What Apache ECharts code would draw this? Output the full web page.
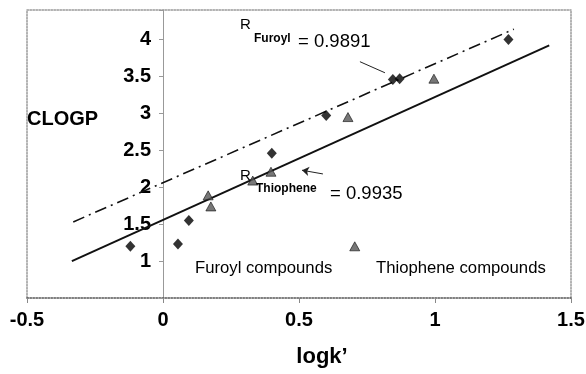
<!DOCTYPE html>
<html><head><meta charset="utf-8">
<script src="https://cdn.jsdelivr.net/npm/echarts/dist/echarts.min.js"></script>
<style>html,body{margin:0;padding:0;background:#fff}#c{width:586px;height:374px}</style>
</head><body><div id="c"></div>
<script>
// ---- data ----
const furoylX = [-0.12, 0.055, 0.095, 0.40, 0.60, 0.845, 0.87, 1.27];
const furoylY = [1.20, 1.23, 1.55, 2.46, 2.97, 3.46, 3.47, 4.00];
const thioX = [0.166, 0.176, 0.33, 0.397, 0.68, 0.996, 0.705];
const thioY = [1.89, 1.74, 2.09, 2.21, 2.95, 3.47, 1.20];
const fitFuroylX = [-0.33, 1.29];
const fitFuroylY = [1.53, 4.14];
const fitThioX = [-0.335, 1.42];
const fitThioY = [1.00, 3.92];
const pointerFuroyl = [[0.724, 3.70], [0.816, 3.55]];
const pointerThio = [[0.511, 2.23], [0.588, 2.18]];
const xTicks = [-0.5, 0, 0.5, 1, 1.5];
const yTicks = [1, 1.5, 2, 2.5, 3, 3.5, 4];
const yMin = 0.5, yMax = 4.4;
const xTitle = 'logk\u2019';
const yTitle = 'CLOGP';
const rFuroyl = '= 0.9891';
const rThio = '= 0.9935';
const legendNames = ['Furoyl compounds', 'Thiophene compounds'];

const zip = (a, b) => a.map((v, i) => [v, b[i]]);
const FONT = '"Liberation Sans", Arial, Helvetica, sans-serif';
const GL = 27, GT = 10, GW = 544, GH = 288;
const xMin = xTicks[0], xMax = xTicks[xTicks.length - 1];
const zeroOffset = -GW * (0 - xMin) / (xMax - xMin);

const chart = echarts.init(document.getElementById('c'));
const txt = (x, y, text, size, bold, align) => ({
  type: 'text', x: x, y: y, z: 10,
  style: { text: text, font: (bold ? 'bold ' : '') + size + 'px ' + FONT, fill: '#000',
           textAlign: align || 'left', textVerticalAlign: 'middle' }
});
const borderAxis = (pos) => ({
  type: 'value', min: yMin, max: yMax, position: pos,
  axisLine: { onZero: false, lineStyle: { color: '#999', type: 'dotted', width: 1.5 } },
  axisTick: { show: false }, axisLabel: { show: false }, splitLine: { show: false }
});

chart.setOption({
  animation: false,
  backgroundColor: '#fff',
  grid: { left: GL, top: GT, width: GW, height: GH, containLabel: false, outerBoundsMode: 'none' },
  xAxis: [{
    type: 'value', min: xMin, max: xMax, interval: 0.5,
    position: 'bottom',
    axisLine: { onZero: false, lineStyle: { color: '#555', type: 'dotted', width: 1.5 } },
    axisTick: { show: true, length: 5, lineStyle: { color: '#888' } },
    axisLabel: { fontSize: 20, fontWeight: 'bold', color: '#000', fontFamily: FONT, margin: 12,
                 formatter: v => String(v), hideOverlap: false },
    splitLine: { show: false }
  }, {
    type: 'value', min: xMin, max: xMax, position: 'top',
    axisLine: { onZero: false, lineStyle: { color: '#999', type: 'dotted', width: 1.5 } },
    axisTick: { show: false }, axisLabel: { show: false }, splitLine: { show: false }
  }],
  yAxis: [{
    type: 'value', min: yMin, max: yMax, interval: 0.5, position: 'left', offset: zeroOffset,
    axisLine: { onZero: false, lineStyle: { color: '#999', width: 1 } },
    axisTick: { show: true, length: 4, lineStyle: { color: '#999' } },
    axisLabel: { fontSize: 20, fontWeight: 'bold', color: '#000', fontFamily: FONT, margin: 12,
                 hideOverlap: false,
                 formatter: v => yTicks.some(t => Math.abs(t - v) < 1e-6) ? String(v) : '' },
    splitLine: { show: false }
  }, borderAxis('right'), Object.assign(borderAxis('left'), { offset: 0 })],
  series: [{
    type: 'line', data: zip(fitFuroylX, fitFuroylY), symbol: 'none', z: 3,
    lineStyle: { color: '#111', width: 1.6, type: [12, 5, 2, 5] },
    markLine: {
      silent: true, symbol: ['none', 'none'], label: { show: false },
      lineStyle: { color: '#222', width: 1, type: 'solid' },
      data: [[{ coord: pointerFuroyl[0] }, { coord: pointerFuroyl[1] }]]
    }
  }, {
    type: 'line', data: zip(fitThioX, fitThioY), symbol: 'none', z: 3,
    lineStyle: { color: '#111', width: 2 },
    markLine: {
      silent: true, symbol: ['arrow', 'none'], symbolSize: 7, label: { show: false },
      lineStyle: { color: '#222', width: 1, type: 'solid' },
      data: [[{ coord: pointerThio[0] }, { coord: pointerThio[1] }]]
    }
  }, {
    type: 'scatter', name: legendNames[0], data: zip(furoylX, furoylY), z: 4,
    symbol: 'diamond', symbolSize: [10, 11],
    itemStyle: { color: '#000' }
  }, {
    type: 'scatter', name: legendNames[1], data: zip(thioX, thioY), z: 4,
    symbol: 'triangle', symbolSize: [10, 9],
    itemStyle: { color: '#555', borderColor: '#111', borderWidth: 0.8 }
  }],
  graphic: [
    txt(27, 119, yTitle, 20, true),
    txt(322, 357, xTitle, 22, true, 'center'),
    txt(240, 25, 'R', 15, false),
    txt(254, 39, 'Furoyl', 12, true),
    txt(298, 42, rFuroyl, 18.5, false),
    txt(240, 176, 'R', 15, false),
    txt(256, 189, 'Thiophene', 12, true),
    txt(330, 194, rThio, 18.5, false),
    txt(195, 268, legendNames[0], 16.7, false),
    txt(376, 268, legendNames[1], 16.7, false)
  ]
});
</script></body></html>
